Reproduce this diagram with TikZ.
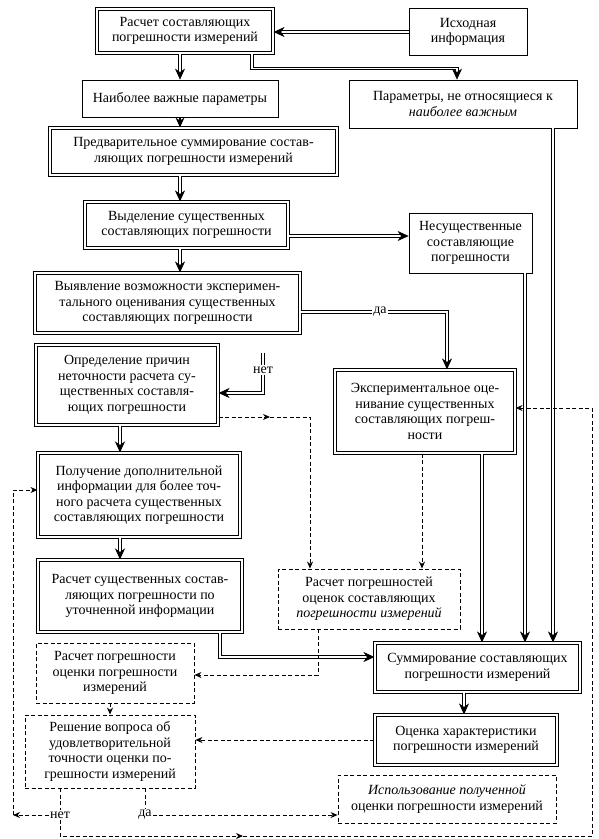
\documentclass[tikz,border=0pt]{standalone}
\usepackage{fontspec}
\setmainfont{Liberation Serif}
\usetikzlibrary{arrows.meta,decorations.markings}
\newcommand{\boxfont}{\fontsize{14}{15.5}\selectfont}
\tikzset{
  box/.style={draw, line width=0.8pt, inner sep=0pt, align=center, font=\boxfont},
  dbox/.style={box, double, line width=1.1pt, double distance=1.4pt},
  dashbox/.style={box, line width=0.9pt, dash pattern=on 4pt off 2.5pt},
  dbl/.style={double, line width=0.9pt, double distance=1.8pt},
  dbla/.style={dbl, shorten >=6pt, postaction={decorate, decoration={markings,
    mark=at position 1 with {\arrow[line width=0.6pt]{Stealth[length=11pt,width=10pt,inset=3.5pt]}}}}},
  dsh/.style={line width=0.9pt, dash pattern=on 4pt off 2.5pt},
  dsha/.style={dsh, -{Stealth[length=7pt,width=6pt]}},
  lbl/.style={font=\boxfont, inner sep=1pt}
}
\begin{document}
\begin{tikzpicture}[x=1pt, y=-1pt, >={Stealth[length=10pt,width=9pt]}]
    \useasboundingbox (0,0) rectangle (598,839);
    \node[dbox, minimum width=176pt, minimum height=44pt] (calc) at (185,31) {Расчет составляющих\\погрешности измерений};
    \node[box, minimum width=118pt, minimum height=47pt] (src) at (468,32) {Исходная\\информация};
    \node[box, minimum width=196pt, minimum height=37pt] (imp) at (180,98.5) {Наиболее важные параметры};
    \node[box, minimum width=228pt, minimum height=48pt] (nonimp) at (463,104) {Параметры, не относящиеся к\\\textit{наиболее важным}};
    \node[dbox, minimum width=287pt, minimum height=47pt] (presum) at (193.5,151.5) {Предварительное суммирование состав-\\ляющих погрешности измерений};
    \node[dbox, minimum width=203pt, minimum height=46pt] (sel) at (186.5,225) {Выделение существенных\\составляющих погрешности};
    \node[box, minimum width=123pt, minimum height=60pt] (insig) at (470.5,243) {Несущественные\\составляющие\\погрешности};
    \node[dbox, minimum width=265pt, minimum height=60pt] (detect) at (167.5,303) {Выявление возможности эксперимен-\\тального оценивания существенных\\составляющих погрешности};
    \node[dbox, minimum width=182pt, minimum height=80pt] (cause) at (127,385) {Определение причин\\неточности расчета су-\\щественных составля-\\ющих погрешности};
    \node[dbox, minimum width=180pt, minimum height=83pt] (exper) at (425,411.5) {Экспериментальное оце-\\нивание существенных\\составляющих погреш-\\ности};
    \node[dbox, minimum width=202pt, minimum height=84pt] (extra) at (139,495) {Получение дополнительной\\информации для более точ-\\ного расчета существенных\\составляющих погрешности};
    \node[dbox, minimum width=204pt, minimum height=72pt] (recalc) at (140,596) {Расчет существенных состав-\\ляющих погрешности по\\уточненной информации};
    \node[dashbox, minimum width=182pt, minimum height=60pt] (errest) at (369,599) {Расчет погрешностей\\оценок составляющих\\\textit{погрешности измерений}};
    \node[dashbox, minimum width=158pt, minimum height=60pt] (errerr) at (115,673) {Расчет погрешности\\оценки погрешности\\измерений};
    \node[dbox, minimum width=205pt, minimum height=49pt] (sum) at (477.5,667.5) {Суммирование составляющих\\погрешности измерений};
    \node[dbox, minimum width=182pt, minimum height=50pt] (charac) at (466,740) {Оценка характеристики\\погрешности измерений};
    \node[dashbox, minimum width=170pt, minimum height=73pt] (decide) at (110,751.5) {Решение вопроса об\\удовлетворительной\\точности оценки по-\\грешности измерений};
    \node[dashbox, minimum width=218pt, minimum height=48pt] (use) at (447,799) {\textit{Использование полученной}\\оценки погрешности измерений};
    \node[lbl] (yes1) at (380,312) {да};
    \node[lbl] (no1) at (263,370) {нет};
    \node[lbl] (no2) at (60,815) {нет};
    \node[lbl] (yes2) at (145,815) {да};
    \coordinate (m1) at (270,417);
    \coordinate (lft) at (13,815);
    \coordinate (m2) at (243,836);
    \coordinate (rgt) at (592,836);
    \draw[dbla] (src.west) -- (calc.east |- src.west);
    \draw[dbla] ([xshift=-5pt]calc.south) -- (imp.north);
    \draw[dbla] ([xshift=67pt]calc.south) -- ++(0,15) -| ([xshift=-6pt]nonimp.north);
    \draw[line width=1.1pt,->] (imp.south) -- (imp.south |- presum.north);
    \draw[dbla] (presum.south -| imp.south) -- (sel.north -| imp.south);
    \draw[dbla] ([yshift=-11pt]sel.east) -- ([yshift=-11pt]sel.east -| insig.west);
    \draw[dbla] (sel.south -| imp.south) -- (detect.north -| imp.south);
    \draw[dbl] ([yshift=-9pt]detect.east) -- (yes1.west);
    \draw[dbla] (yes1.east) -| ([xshift=22pt]exper.north);
    \draw[dbl] ([yshift=12pt]no1.north) -- (no1.north);
    \draw[dbla] (no1.south) |- ([yshift=-8pt]cause.east);
    \draw[dbla] ([xshift=-7pt]cause.south) -- ([xshift=-7pt]cause.south |- extra.north);
    \draw[dbla] ([xshift=-19pt]extra.south) -- ([xshift=-19pt]extra.south |- recalc.north);
    \draw[dbla] ([xshift=80pt]recalc.south) |- ([yshift=10.5pt]sum.west);
    \draw[dbla] ([xshift=57pt]exper.south) -- ([xshift=57pt]exper.south |- sum.north);
    \draw[dbla] ([xshift=54.5pt]insig.south) -- ([xshift=54.5pt]insig.south |- sum.north);
    \draw[dbla] ([xshift=90pt]nonimp.south) -- ([xshift=90pt]nonimp.south |- sum.north);
    \draw[dbla] ([xshift=-13.5pt]sum.south) -- ([xshift=-13.5pt]sum.south |- charac.north);
    \draw[dsha] ([yshift=-32pt]cause.east) -- (m1);
    \draw[dsha] (m1) -| ([xshift=-59pt]errest.north);
    \draw[dsha] ([xshift=-3pt]exper.south) -- ([xshift=-3pt]exper.south |- errest.north);
    \draw[dsha] ([xshift=-51pt]errest.south) |- ([yshift=-2pt]errerr.east);
    \draw[dsha] (decide.north |- errerr.south) -- (decide.north);
    \draw[dsha] (charac.west) -- (charac.west -| decide.east);
    \draw[dsh] (decide.south -| no2.north) -- (no2.north);
    \draw[dsha] (no2.west) -- (lft);
    \draw[dsha] (lft) |- ([yshift=5pt]extra.west);
    \draw[dsha] (no2.south) |- (m2);
    \draw[dsha] (m2) -- (rgt) |- ([yshift=3.5pt]exper.east);
    \draw[dsh] (decide.south -| yes2.north) -- (yes2.north);
    \draw[dsha] (yes2.east) -- (yes2.east -| use.west);
\end{tikzpicture}
\end{document}
